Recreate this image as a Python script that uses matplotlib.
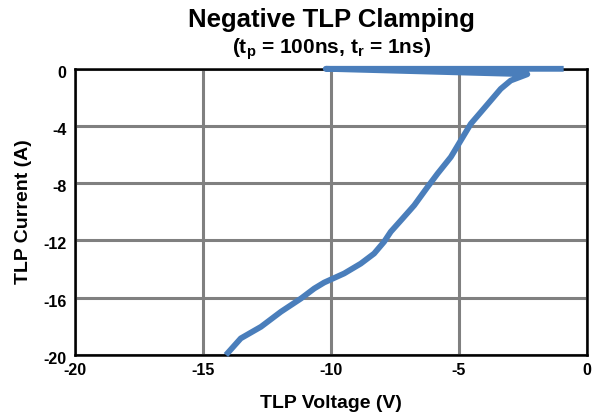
import numpy as np
import matplotlib
matplotlib.use("Agg")
import matplotlib.pyplot as plt
from matplotlib.transforms import ScaledTranslation

plt.rcParams['font.family'] = ['Liberation Sans', 'DejaVu Sans']
plt.rcParams['font.weight'] = 'bold'
plt.rcParams['mathtext.default'] = 'regular'
plt.rcParams['axes.unicode_minus'] = False

# datos (V, A)
voltaje = [-0.9, -10.2, -2.32, -2.97, -3.36, -4.14, -4.53, -4.92, -5.31, -5.83,
           -6.22, -6.74, -7.2, -7.66, -7.92, -8.31, -8.83, -9.48, -10.26, -10.65,
           -11.17, -11.95, -12.73, -13.52, -13.95, -14.1]
corriente = [-0.02, -0.02, -0.4, -0.84, -1.42, -3.05, -3.86, -5.02, -6.18, -7.34,
             -8.27, -9.55, -10.48, -11.4, -12.1, -12.92, -13.62, -14.31, -14.94, -15.36,
             -16.06, -16.98, -18.03, -18.84, -19.7, -20.0]

x_ticks = [-20, -15, -10, -5, 0]
y_ticks = [0, -4, -8, -12, -16, -20]

fig = plt.figure(figsize=(5.96, 4.17), dpi=100)
ax = fig.add_axes([0.1258, 0.1487, 0.8586, 0.687])

ax.plot(voltaje, corriente, color='#4a7ebb', lw=4.2, solid_joinstyle='round',
        solid_capstyle='butt', clip_on=False, zorder=3)

ax.set_xlim(-20, 0)
ax.set_ylim(-20, 0)
ax.set_xticks(x_ticks)
ax.set_yticks(y_ticks)
ax.tick_params(length=0, labelsize=11.5)
ax.tick_params(axis='x', pad=6)
ax.tick_params(axis='y', pad=6)
ax.grid(True, color='#808080', lw=2.2)
ax.set_axisbelow(True)
for s in ax.spines.values():
    s.set_linewidth(1.8)
    s.set_color('black')

# etiquetas del eje y un poco por debajo de la linea, como en Excel
offset = ScaledTranslation(0, -3 / 100, fig.dpi_scale_trans)
for lab in ax.get_yticklabels():
    lab.set_transform(lab.get_transform() + offset)

ax.set_xlabel('TLP Voltage (V)', fontsize=14, fontweight='bold', labelpad=12)
ax.set_ylabel('TLP Current (A)', fontsize=14, fontweight='bold', labelpad=8)

fig.text(0.556, 0.952, 'Negative TLP Clamping', ha='center', va='center',
         fontsize=18.5, fontweight='bold')
fig.text(0.556, 0.883, '(t$_p$ = 100ns, t$_r$ = 1ns)', ha='center', va='center',
         fontsize=15, fontweight='bold')

fig.savefig('out.png', dpi=100)
